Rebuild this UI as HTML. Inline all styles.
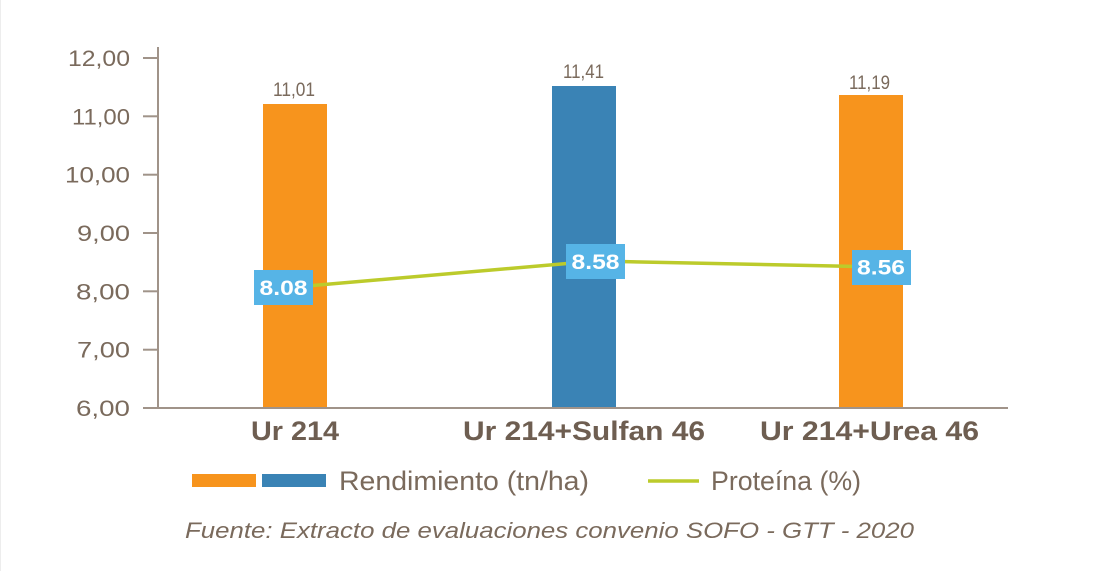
<!DOCTYPE html>
<html><head><meta charset="utf-8"><style>
html,body{margin:0;padding:0;background:#fff;}
svg{display:block;}
text{font-family:"Liberation Sans",sans-serif;}
</style></head><body>
<svg width="1120" height="571" viewBox="0 0 1120 571" xmlns="http://www.w3.org/2000/svg">
<rect x="0" y="0" width="1120" height="571" fill="#fff"/>
<line x1="0.5" y1="0" x2="0.5" y2="571" stroke="#ededed" stroke-width="1"/>
<!-- bars -->
<rect x="263" y="104" width="64" height="304" fill="#F7941D"/>
<rect x="552" y="86" width="64" height="322" fill="#3A83B5"/>
<rect x="839" y="95" width="64" height="313" fill="#F7941D"/>
<!-- axes -->
<g stroke="#a09389" stroke-width="2">
<line x1="158" y1="47" x2="158" y2="408"/>
<line x1="143" y1="408" x2="1008" y2="408"/>
<line x1="143" y1="58" x2="158" y2="58"/>
<line x1="143" y1="116.3" x2="158" y2="116.3"/>
<line x1="143" y1="174.7" x2="158" y2="174.7"/>
<line x1="143" y1="233" x2="158" y2="233"/>
<line x1="143" y1="291.3" x2="158" y2="291.3"/>
<line x1="143" y1="349.7" x2="158" y2="349.7"/>
</g>
<!-- y labels -->
<g fill="#7a6a5c" font-size="22" text-anchor="end">
<text x="130" y="66" textLength="62" lengthAdjust="spacingAndGlyphs">12,00</text>
<text x="130" y="124.3" textLength="58" lengthAdjust="spacingAndGlyphs">11,00</text>
<text x="130" y="182.7" textLength="65" lengthAdjust="spacingAndGlyphs">10,00</text>
<text x="130" y="241" textLength="53" lengthAdjust="spacingAndGlyphs">9,00</text>
<text x="130" y="299.3" textLength="54" lengthAdjust="spacingAndGlyphs">8,00</text>
<text x="130" y="357.7" textLength="53" lengthAdjust="spacingAndGlyphs">7,00</text>
<text x="130" y="416" textLength="54" lengthAdjust="spacingAndGlyphs">6,00</text>
</g>
<!-- bar value labels -->
<g fill="#7a6a5c" font-size="19" text-anchor="middle">
<text x="294" y="96" textLength="42" lengthAdjust="spacingAndGlyphs">11,01</text>
<text x="583.5" y="78" textLength="41" lengthAdjust="spacingAndGlyphs">11,41</text>
<text x="869.5" y="89" textLength="41" lengthAdjust="spacingAndGlyphs">11,19</text>
</g>
<!-- protein line -->
<polyline points="284,288 596,261 882,267" fill="none" stroke="#BCCB2B" stroke-width="3.5"/>
<g>
<rect x="254" y="270" width="59" height="35" fill="#56B4E6"/>
<rect x="566" y="244" width="59" height="35" fill="#56B4E6"/>
<rect x="852" y="250" width="59" height="35" fill="#56B4E6"/>
</g>
<g fill="#fff" font-size="21" font-weight="bold" text-anchor="middle">
<text x="283.5" y="295" textLength="48" lengthAdjust="spacingAndGlyphs">8.08</text>
<text x="595.5" y="269" textLength="48" lengthAdjust="spacingAndGlyphs">8.58</text>
<text x="881" y="274.5" textLength="48" lengthAdjust="spacingAndGlyphs">8.56</text>
</g>
<!-- category labels -->
<g fill="#6e5e51" font-size="27" font-weight="bold" text-anchor="middle">
<text x="295" y="440" textLength="88" lengthAdjust="spacingAndGlyphs">Ur 214</text>
<text x="584" y="440" textLength="242" lengthAdjust="spacingAndGlyphs">Ur 214+Sulfan 46</text>
<text x="869.5" y="440" textLength="219" lengthAdjust="spacingAndGlyphs">Ur 214+Urea 46</text>
</g>
<!-- legend -->
<rect x="192" y="474" width="64" height="13" fill="#F7941D"/>
<rect x="262" y="474" width="64" height="13" fill="#3A83B5"/>
<text x="339" y="490" fill="#7a6a5c" font-size="27" textLength="250" lengthAdjust="spacingAndGlyphs">Rendimiento (tn/ha)</text>
<line x1="648" y1="481" x2="699" y2="481" stroke="#BCCB2B" stroke-width="3.5"/>
<text x="711" y="490" fill="#7a6a5c" font-size="27" textLength="150" lengthAdjust="spacingAndGlyphs">Proteína (%)</text>
<!-- source -->
<text x="185" y="538" fill="#7a6a5c" font-size="22" font-style="italic" textLength="729" lengthAdjust="spacingAndGlyphs">Fuente: Extracto de evaluaciones convenio SOFO - GTT - 2020</text>
</svg>
</body></html>
